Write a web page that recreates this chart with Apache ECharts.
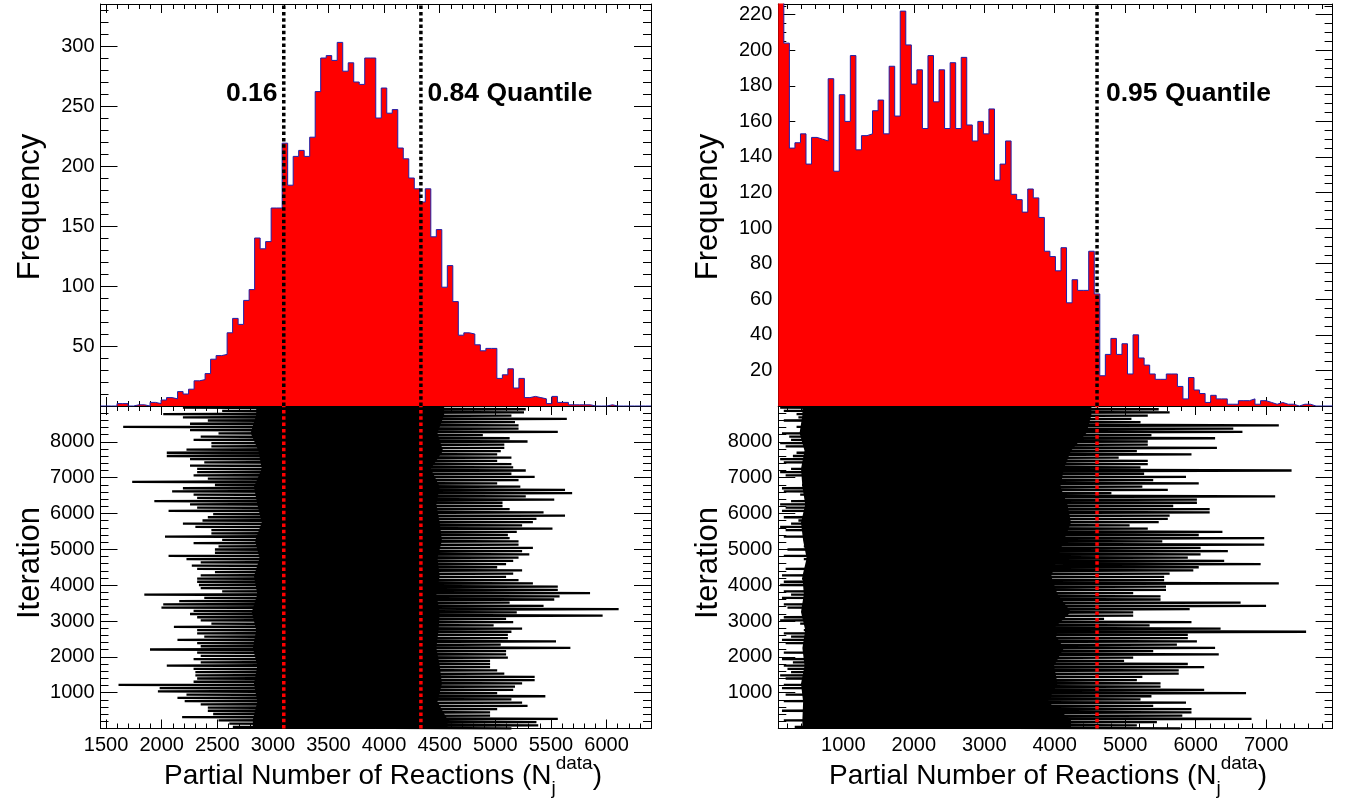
<!DOCTYPE html>
<html><head><meta charset="utf-8">
<script src="https://cdn.jsdelivr.net/npm/echarts@6/dist/echarts.min.js"></script>
<style>html,body{margin:0;padding:0;background:#fff}#c{width:1348px;height:798px}</style>
</head><body><div id="c"></div>
<script>
// ---------------- DATA ----------------
// Left histogram: 100 bins over leftRange
const leftRange = [1450, 6400];
const leftCounts = [0,0,0,2,2,0,1,1,0,3, 2,5,7,6,12,10,14,21,22,27,
  39,42,43,61,73,68,88,97,140,131, 137,165,165,219,184,208,213,208,224,262,
  290,292,288,303,279,286,270,268,290,290, 240,265,244,247,215,206,190,181,170,181,
  141,147,99,117,87,59,61,60,51,46, 48,48,23,26,31,15,23,7,8,7,
  6,2,8,3,3,1,1,1,1,0, 0,0,1,0,0,0,0,0,0,0];
const leftQuantiles = [3098, 4331];
const leftQuantileLabels = ['0.16', '0.84 Quantile'];

// Right histogram: 100 bins over rightRange (first bin exceeds the frame)
const rightRange = [78, 7942];
const rightCounts = [240,204,145,148,153,136,151,150,149,184, 132,175,160,197,144,152,153,166,172,153,
  191,163,222,203,181,189,156,197,171,189, 156,193,156,196,158,149,160,153,167,127,
  136,149,119,116,109,122,117,106,87,84, 76,89,58,71,65,65,87,63,17,29,
  38,29,35,18,40,27,23,18,15,15, 18,18,11,4,16,9,7,2,6,4,
  4,1,1,3,3,4,1,3,2,1, 2,1,1,0,1,1,0,0,0,0];
const rightQuantiles = [4600];
const rightQuantileLabels = ['0.95 Quantile'];

// Frequency axis maxima
const leftFreqMax = 335;
const rightFreqMax = 226;
const iterationMax = 9000;

// Trace (chain) extremes, one row per thinned step, listed from the last iteration (top) downwards
const traceTopIteration = 8955;
const traceRowStep = 90;
const leftTraceLow = [2191,2544,2014,2191,2415,2255,1654,2255,2511,2351,
  2287,2447,2447,2223,2046,2046,2255,2383,2255,2319,
  2319,2287,2415,1735,2479,2191,2094,2287,2319,1934,
  2255,2319,2062,2463,2415,2367,2191,2303,2447,2447,
  2030,2544,2287,2511,2479,2479,2062,2223,2351,2271,
  2319,2479,2351,2319,2319,2335,2351,2544,1844,2383,
  2158,2014,1998,2287,2255,2319,2351,2447,2110,2319,
  2319,2383,2142,2319,2351,1895,2319,2351,2287,2351,
  2046,2287,2303,2303,2319,2287,1612,1982,1966,2223,
  2142,2207,2351,2415,2415,2463,2184,2511,2608,2640];
const leftTraceHigh = [5274,5258,5145,5643,5177,5209,5209,5562,4888,5129,
  5290,5081,5081,5049,5017,5145,5017,5145,5161,5274,
  5145,5354,5209,5017,5225,5627,5691,5274,5530,5065,
  5065,5129,5434,5627,5370,5338,5241,5514,5193,5113,
  5129,5209,5209,5338,5241,5306,5209,5161,5097,5017,
  5241,5161,5097,5209,5338,5562,5562,5852,5578,5530,
  5129,5434,6109,5193,5965,5097,5161,4985,5241,5145,
  5113,5113,5546,5049,5675,5097,5097,5113,4953,4953,
  4953,5017,5081,5354,5354,5241,5177,5161,5017,5450,
  5145,5241,5290,5017,4953,4953,5562,5370,5386,5145];
const rightTraceLow = [104,156,337,363,156,827,337,801,130,233,
  259,104,182,801,337,285,104,156,466,259,
  104,182,801,750,414,130,156,388,646,259,
  104,182,130,440,156,363,259,104,182,492,
  156,517,492,440,208,569,156,440,672,569,
  182,672,130,414,156,104,517,156,259,130,
  440,156,208,879,466,156,104,388,827,440,
  156,259,130,182,440,827,156,817,130,285,
  156,208,259,104,182,672,156,130,517,182,
  776,156,776,466,130,595,517,156,827,311];
const rightTraceHigh = [5475,5630,5320,5088,5217,7179,6533,6663,5372,6275,
  5320,5320,6301,5165,5940,4907,5320,5320,5217,7360,
  5268,5862,5397,6043,5243,5604,4804,7127,6017,6017,
  5681,6198,6198,5630,5604,5475,5062,5320,6379,6043,
  6972,5526,6972,6069,6456,6069,5888,6404,6921,6043,
  5966,5630,5552,5552,7179,5578,5578,5113,5501,5501,
  6637,6998,5914,5113,5113,4700,5940,5346,6353,7566,
  5888,5888,6017,5733,6275,5397,6327,5113,4984,5888,
  6120,5759,5759,5243,5165,5501,5501,6120,6714,5372,
  5217,5862,5397,5940,5940,5810,6792,5449,5165,5784];

// Solid (fully covered) part of each trace, per 500-iteration band, listed from the top band downwards
const coreBandIterations = 500;
const leftCoreLow  = [2850,2800,2870,2900,2830,2860,2900,2840,2880,2830,2860,2810,2850,2820,2860,2830,2860,2820];
const leftCoreHigh = [4540,4480,4530,4420,4500,4470,4500,4520,4480,4500,4470,4500,4490,4470,4500,4520,4480,4570];
const rightCoreLow  = [420,380,450,400,420,460,400,430,480,420,440,400,460,420,450,400,430,420];
const rightCoreHigh = [4520,4450,4230,4130,4080,4180,4230,4130,4040,3950,4040,4230,3960,4130,3990,4040,3900,4230];

// ---------------- BUILD ----------------
const FONT = '"Liberation Sans", Arial, Helvetica, sans-serif';
const chart = echarts.init(document.getElementById('c'), null, {renderer: 'canvas'});

function histPoints(counts, range) {
  const w = (range[1] - range[0]) / counts.length;
  const pts = counts.map((c, i) => [range[0] + i * w, c]);
  pts.push([range[1], counts[counts.length - 1]]);
  return pts;
}
function tracePoints(low, high) {
  const pts = [];
  for (let j = 0; j < low.length; j++) {
    const it = traceTopIteration - j * traceRowStep;
    pts.push([low[j], it]);
    pts.push([high[j], it - traceRowStep / 2]);
  }
  return pts;
}
// polygon outline of the solid core: down the low edge, back up the high edge
function corePolygon(low, high) {
  const n = low.length, pts = [];
  pts.push([low[0], iterationMax]);
  for (let k = 0; k < n; k++) pts.push([low[k], iterationMax - (k + 0.5) * coreBandIterations]);
  pts.push([low[n - 1], 0]);
  pts.push([high[n - 1], 0]);
  for (let k = n - 1; k >= 0; k--) pts.push([high[k], iterationMax - (k + 0.5) * coreBandIterations]);
  pts.push([high[0], iterationMax]);
  return pts;
}

const G = [
  {left: 100.5, top: 4, width: 550.5, height: 402},
  {left: 100.5, top: 406, width: 550.5, height: 322.5},
  {left: 778.3, top: 4, width: 554.3, height: 402},
  {left: 778.3, top: 406, width: 554.3, height: 322.5}
];

const labelStyle = {color: '#000', fontFamily: FONT, fontSize: 20, formatter: v => String(v)};

function xAx(grid, range, pos, labels, split) {
  return {
    type: 'value', gridIndex: grid, min: range[0], max: range[1], position: pos,
    splitNumber: split, scale: true,
    axisLine: {show: true, onZero: false, lineStyle: {color: '#000', width: 1}},
    axisTick: {show: true, inside: true, length: 9, lineStyle: {color: '#000', width: 1}},
    minorTick: {show: true, splitNumber: 5, length: 5, lineStyle: {color: '#000', width: 1}},
    axisLabel: Object.assign({show: labels, margin: 7, showMinLabel: false, showMaxLabel: false}, labelStyle),
    splitLine: {show: false}, minorSplitLine: {show: false}
  };
}
function yAx(grid, max, interval, minorSplit, pos, labels) {
  return {
    type: 'value', gridIndex: grid, min: 0, max: max, interval: interval, position: pos,
    axisLine: {show: true, onZero: false, lineStyle: {color: '#000', width: 1}},
    axisTick: {show: true, inside: true, length: 17, lineStyle: {color: '#000', width: 1}},
    minorTick: {show: true, splitNumber: minorSplit, length: 8, lineStyle: {color: '#000', width: 1}},
    axisLabel: Object.assign({show: labels, margin: 6, showMinLabel: false, showMaxLabel: false}, labelStyle),
    splitLine: {show: false}, minorSplitLine: {show: false}
  };
}

const xAxes = [
  xAx(0, leftRange, 'bottom', false, 10), xAx(0, leftRange, 'top', false, 10),
  xAx(1, leftRange, 'bottom', true, 10), xAx(1, leftRange, 'top', false, 10),
  xAx(2, rightRange, 'bottom', false, 8), xAx(2, rightRange, 'top', false, 8),
  xAx(3, rightRange, 'bottom', true, 8), xAx(3, rightRange, 'top', false, 8)
];
const yAxes = [
  yAx(0, leftFreqMax, 50, 5, 'left', true), yAx(0, leftFreqMax, 50, 5, 'right', false),
  yAx(1, iterationMax, 1000, 5, 'left', true), yAx(1, iterationMax, 1000, 5, 'right', false),
  yAx(2, rightFreqMax, 20, 4, 'left', true), yAx(2, rightFreqMax, 20, 4, 'right', false),
  yAx(3, iterationMax, 1000, 5, 'left', true), yAx(3, iterationMax, 1000, 5, 'right', false)
];

function histSeries(counts, range, xi, yi) {
  return {
    type: 'line', xAxisIndex: xi, yAxisIndex: yi, step: 'end', data: histPoints(counts, range),
    symbol: 'none', clip: true, z: 2,
    lineStyle: {color: '#1e1ea8', width: 1},
    areaStyle: {color: '#ff0000', opacity: 1}
  };
}
function traceSeries(low, high, xi, yi) {
  return {
    type: 'line', xAxisIndex: xi, yAxisIndex: yi, data: tracePoints(low, high),
    symbol: 'none', clip: true, z: 3,
    lineStyle: {color: '#000', width: 2.3}
  };
}
function coreSeries(low, high, xi, yi) {
  const poly = corePolygon(low, high);
  return {
    type: 'custom', xAxisIndex: xi, yAxisIndex: yi, data: poly, clip: true, z: 2,
    encode: {x: 0, y: 1},
    renderItem: function (params, api) {
      if (params.dataIndex !== 0) return null;
      const points = poly.map(p => api.coord(p));
      return {type: 'polygon', shape: {points: points}, style: {fill: '#000'}};
    }
  };
}
function qSeries(q, max, xi, yi, color) {
  return {
    type: 'line', xAxisIndex: xi, yAxisIndex: yi, data: [[q, 0], [q, max]],
    symbol: 'none', clip: true, z: 5,
    lineStyle: {color: color, width: 3.5, type: [3.5, 2.8], cap: 'butt'}
  };
}

const series = [
  histSeries(leftCounts, leftRange, 0, 0),
  coreSeries(leftCoreLow, leftCoreHigh, 2, 2),
  traceSeries(leftTraceLow, leftTraceHigh, 2, 2),
  histSeries(rightCounts, rightRange, 4, 4),
  coreSeries(rightCoreLow, rightCoreHigh, 6, 6),
  traceSeries(rightTraceLow, rightTraceHigh, 6, 6)
];
leftQuantiles.forEach(q => {
  series.push(qSeries(q, leftFreqMax, 0, 0, '#000'));
  series.push(qSeries(q, iterationMax, 2, 2, '#ff0000'));
});
rightQuantiles.forEach(q => {
  series.push(qSeries(q, rightFreqMax, 4, 4, '#000'));
  series.push(qSeries(q, iterationMax, 6, 6, '#ff0000'));
});

const boldFont = 'bold 26.5px ' + FONT;
const titleFont = '31px ' + FONT;
function xTitle(cx) {
  return {
    type: 'text', x: cx, y: 776, z: 10,
    style: {
      text: '{m|Partial Number of Reactions (N}{s|j}{p|data}{m|)}',
      align: 'center', verticalAlign: 'middle', fill: '#000',
      rich: {
        m: {fontSize: 28, fontFamily: FONT, lineHeight: 44, fill: '#000'},
        s: {fontSize: 19, fontFamily: FONT, lineHeight: 28, verticalAlign: 'bottom', fill: '#000'},
        p: {fontSize: 19, fontFamily: FONT, lineHeight: 18, verticalAlign: 'top', fill: '#000'}
      }
    }
  };
}
function yTitle(cx, cy, text) {
  return {
    type: 'text', x: cx, y: cy, rotation: Math.PI / 2, z: 10,
    style: {text: text, font: titleFont, fill: '#000', align: 'center', verticalAlign: 'middle'}
  };
}
function note(x, text) {
  return {type: 'text', x: x, y: 94, z: 10,
    style: {text: text, font: boldFont, fill: '#000', align: 'left', verticalAlign: 'middle'}};
}

chart.setOption({
  animation: false,
  backgroundColor: '#fff',
  grid: G.map(g => Object.assign({containLabel: false, outerBoundsMode: 'none'}, g)),
  xAxis: xAxes,
  yAxis: yAxes,
  series: series,
  graphic: [
    note(226, leftQuantileLabels[0]),
    note(427.5, leftQuantileLabels[1]),
    note(1106, rightQuantileLabels[0]),
    yTitle(30, 207, 'Frequency'),
    yTitle(30, 563, 'Iteration'),
    yTitle(708, 207, 'Frequency'),
    yTitle(708, 563, 'Iteration'),
    xTitle(383),
    xTitle(1048)
  ]
});
</script></body></html>
